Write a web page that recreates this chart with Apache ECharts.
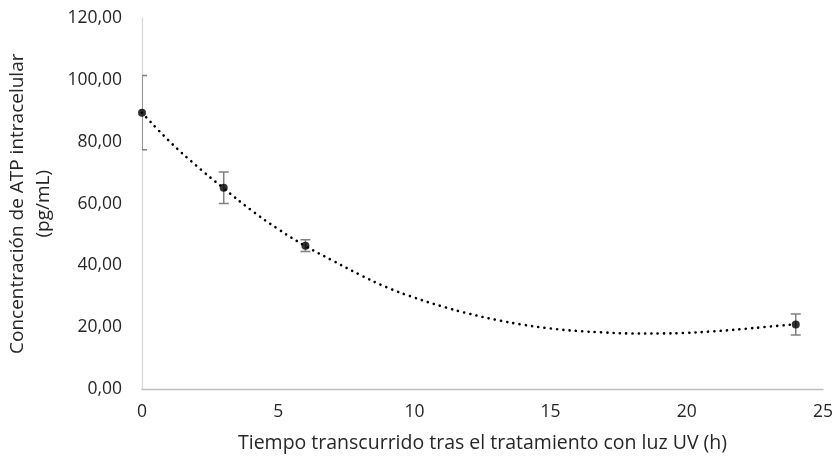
<!DOCTYPE html>
<html>
<head>
<meta charset="utf-8">
<script src="https://cdn.jsdelivr.net/npm/echarts@6/dist/echarts.min.js"></script>
<style>
html,body{margin:0;padding:0;background:#fff;}
#chart{width:836px;height:459px;}
</style>
</head>
<body>
<div id="chart"></div>
<script>
// Measured points (hours after UV treatment, mean ATP, error)
const timeH = [0, 3, 6, 24];
const atpMean = [89.5, 65.2, 46.4, 20.9];
const atpErr = [12.0, 5.1, 1.9, 3.4];
// Trendline values
const trendX = [0,1,2,3,4,5,6,7,8,9,10,11,12,13,14,15,16,17,18,19,20,21,22,23,24];
const trendY = [89.5,80.3,72.3,65.0,58.0,51.8,46.3,41.6,37.0,32.9,29.6,26.8,24.4,22.4,20.8,19.6,18.8,18.3,18.0,18.0,18.2,18.7,19.4,20.2,21.0];
const yTicks = [0,20,40,60,80,100,120];
const xTicks = [0,5,10,15,20,25];

const fmt = v => v.toFixed(2).replace('.', ',');
const font = 'Open Sans';
const txt = '#262626';

const chart = echarts.init(document.getElementById('chart'));
chart.setOption({
  animation: false,
  grid: {left: 142, right: 13, top: 18.5, bottom: 70, containLabel: false, outerBoundsMode: 'none'},
  xAxis: {
    type: 'value', min: xTicks[0], max: xTicks[xTicks.length-1], interval: 5,
    axisLine: {show: true, lineStyle: {color: '#bfbfbf', width: 1.3}},
    axisTick: {show: false},
    splitLine: {show: false},
    axisLabel: {color: txt, fontFamily: font, fontSize: 17.5, margin: 14},
    name: 'Tiempo transcurrido tras el tratamiento con luz UV (h)',
    nameLocation: 'middle', nameGap: 44,
    nameTextStyle: {color: txt, fontFamily: font, fontSize: 19.5}
  },
  yAxis: {
    type: 'value', min: yTicks[0], max: yTicks[yTicks.length-1], interval: 20,
    axisLine: {show: true, lineStyle: {color: '#d9d9d9', width: 1.3}},
    axisTick: {show: false},
    splitLine: {show: false},
    axisLabel: {color: txt, fontFamily: font, fontSize: 17.5, margin: 20, formatter: fmt},
    name: 'Concentración de ATP intracelular\n(pg/mL)',
    nameLocation: 'middle', nameGap: 79, nameRotate: 90,
    nameTextStyle: {color: txt, fontFamily: font, fontSize: 19, lineHeight: 26, align: 'center'}
  },
  series: [
    {
      type: 'line', smooth: true, showSymbol: false, silent: true,
      data: trendX.map((x, i) => [x, trendY[i]]),
      lineStyle: {color: '#000', width: 2.6, type: [0.1, 6.2], cap: 'round'},
      z: 2
    },
    {
      type: 'custom', clip: true, z: 3,
      data: timeH.map((t, i) => [t, atpMean[i] - atpErr[i], atpMean[i] + atpErr[i]]),
      renderItem: function (params, api) {
        const lo = api.coord([api.value(0), api.value(1)]);
        const hi = api.coord([api.value(0), api.value(2)]);
        const hw = 5;
        const st = {stroke: '#808080', lineWidth: 1.5};
        return {
          type: 'group',
          children: [
            {type: 'line', shape: {x1: hi[0], y1: hi[1], x2: lo[0], y2: lo[1]}, style: st},
            {type: 'line', shape: {x1: hi[0]-hw, y1: hi[1], x2: hi[0]+hw, y2: hi[1]}, style: st},
            {type: 'line', shape: {x1: lo[0]-hw, y1: lo[1], x2: lo[0]+hw, y2: lo[1]}, style: st}
          ]
        };
      }
    },
    {
      type: 'scatter', symbol: 'circle', symbolSize: 8, z: 4,
      itemStyle: {color: '#000'},
      data: timeH.map((t, i) => [t, atpMean[i]])
    }
  ]
});
</script>
</body>
</html>
